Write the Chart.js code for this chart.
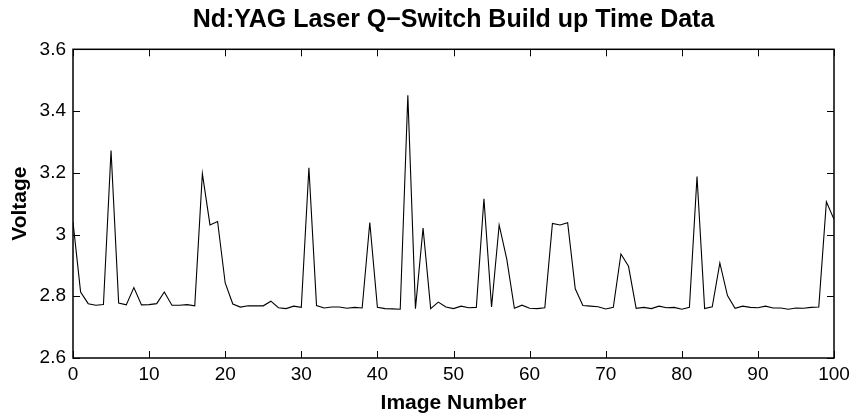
<!DOCTYPE html>
<html>
<head>
<meta charset="utf-8">
<script src="https://cdn.jsdelivr.net/npm/chart.js@4"></script>
<style>
  html, body { margin: 0; padding: 0; background: #fff; }
  #wrap { width: 856px; height: 420px; }
</style>
</head>
<body>
<div id="wrap"><canvas id="c" width="856" height="420"></canvas></div>
<script>
// Q-switch build-up time readings, one per captured image
const imageNumbers = Array.from({ length: 101 }, (_, i) => i);
const voltages = [
  3.040, 2.814, 2.776, 2.771, 2.773, 3.272, 2.778, 2.772, 2.828, 2.772,
  2.773, 2.776, 2.814, 2.771, 2.771, 2.773, 2.769, 3.197, 3.031, 3.042,
  2.843, 2.775, 2.765, 2.769, 2.769, 2.769, 2.784, 2.763, 2.760, 2.768,
  2.764, 3.216, 2.770, 2.762, 2.765, 2.765, 2.761, 2.764, 2.762, 3.039,
  2.764, 2.760, 2.759, 2.758, 3.451, 2.760, 3.021, 2.760, 2.781, 2.765,
  2.760, 2.768, 2.763, 2.764, 3.116, 2.765, 3.031, 2.920, 2.761, 2.771,
  2.761, 2.760, 2.763, 3.036, 3.031, 3.038, 2.824, 2.770, 2.768, 2.766,
  2.759, 2.764, 2.937, 2.897, 2.761, 2.764, 2.760, 2.768, 2.763, 2.764,
  2.758, 2.764, 3.188, 2.760, 2.766, 2.908, 2.802, 2.761, 2.768, 2.764,
  2.763, 2.768, 2.762, 2.762, 2.758, 2.762, 2.761, 2.764, 2.765, 3.106,
  3.049
];
const xTicks = [0, 10, 20, 30, 40, 50, 60, 70, 80, 90, 100];
const yTicks = [2.6, 2.8, 3.0, 3.2, 3.4, 3.6];
const chartTitle = 'Nd:YAG Laser Q\u2212Switch Build up Time Data';

const FONT = "'Liberation Sans', Arial, Helvetica, sans-serif";

// Frame around the axes with short inward tick marks on all four sides,
// plus the title centred over the plotting area
const boxTicks = {
  id: 'boxTicks',
  afterDatasetsDraw(chart) {
    const { ctx, chartArea: a, scales: { x, y } } = chart;
    const len = 7;
    ctx.save();
    ctx.strokeStyle = '#000';
    ctx.lineWidth = 1;
    ctx.beginPath();
    xTicks.forEach(v => {
      const px = Math.round(x.getPixelForValue(v)) + 0.5;
      ctx.moveTo(px, a.bottom); ctx.lineTo(px, a.bottom - len);
      ctx.moveTo(px, a.top); ctx.lineTo(px, a.top + len);
    });
    yTicks.forEach(v => {
      const py = Math.round(y.getPixelForValue(v)) + 0.5;
      ctx.moveTo(a.left, py); ctx.lineTo(a.left + len, py);
      ctx.moveTo(a.right, py); ctx.lineTo(a.right - len, py);
    });
    ctx.stroke();
    ctx.lineWidth = 1.5;
    ctx.strokeRect(a.left, a.top, a.right - a.left, a.bottom - a.top);

    ctx.fillStyle = '#000';
    ctx.font = 'bold 25px ' + FONT;
    ctx.textAlign = 'center';
    ctx.textBaseline = 'middle';
    ctx.fillText(chartTitle, (a.left + a.right) / 2, 20);
    ctx.restore();
  }
};

new Chart(document.getElementById('c'), {
  type: 'line',
  data: {
    labels: imageNumbers,
    datasets: [{
      data: imageNumbers.map((n, i) => ({ x: n, y: voltages[i] })),
      borderColor: '#000',
      borderWidth: 1.1,
      pointRadius: 0,
      tension: 0,
      fill: false
    }]
  },
  options: {
    responsive: false,
    animation: false,
    devicePixelRatio: 1,
    layout: { padding: { left: 0, right: 22, top: 49.3, bottom: 0 } },
    plugins: {
      legend: { display: false },
      tooltip: { enabled: false },
      title: { display: false }
    },
    scales: {
      x: {
        type: 'linear',
        min: 0, max: 100,
        afterBuildTicks(s) { s.ticks = xTicks.map(v => ({ value: v })); },
        afterFit(s) { s.height = 62; },
        grid: { display: false, drawTicks: false },
        border: { display: false },
        ticks: {
          color: '#000', padding: 5, maxRotation: 0,
          font: { family: FONT, size: 19 },
          callback: v => String(v)
        },
        title: {
          display: true, text: 'Image Number', color: '#000',
          font: { family: FONT, size: 21, weight: 'bold' },
          padding: { top: 0, bottom: 4.4 }
        }
      },
      y: {
        min: 2.6, max: 3.6,
        afterBuildTicks(s) { s.ticks = yTicks.map(v => ({ value: v })); },
        afterFit(s) { s.width = 73; },
        grid: { display: false, drawTicks: false },
        border: { display: false },
        ticks: {
          color: '#000', padding: 7,
          font: { family: FONT, size: 19 },
          callback: v => (Math.abs(v - 3) < 1e-9 ? '3' : v.toFixed(1))
        },
        title: {
          display: true, text: 'Voltage', color: '#000',
          font: { family: FONT, size: 21, weight: 'bold' },
          padding: { top: 8, bottom: 0 }
        }
      }
    }
  },
  plugins: [boxTicks]
});
</script>
</body>
</html>
